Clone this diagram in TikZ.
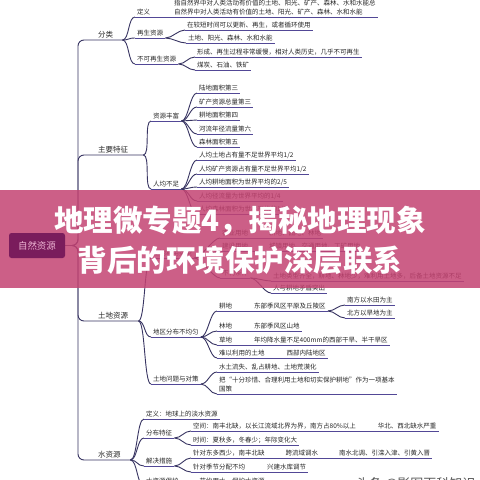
\documentclass[tikz,border=0pt]{standalone}
\usepackage{fontspec}
\setmainfont{Noto Sans CJK SC}
\usetikzlibrary{positioning}
\definecolor{branch}{RGB}{56,52,98}
\definecolor{uline}{RGB}{82,72,150}
\definecolor{txt}{RGB}{40,40,40}
\definecolor{veilpink}{RGB}{196,67,114}
\definecolor{rootbox}{RGB}{122,28,92}
\definecolor{roottxt}{RGB}{236,178,210}
\pgfdeclarelayer{veil}
\pgfdeclarelayer{front}
\pgfsetlayers{main,veil,front}
\tikzset{
  topic/.style={anchor=south west,inner xsep=0pt,inner ysep=1.6pt,text=txt,
    align=left,text width=#1,font=\fontsize{7.5}{9}\selectfont},
  leaf/.style={anchor=south west,inner xsep=2pt,inner ysep=1.4pt,text=txt,
    align=left,font=\fontsize{6.5}{9}\selectfont},
  br/.style={draw=branch,line width=0.9pt},
  ul/.style={draw=uline,line width=0.8pt}
}
\newcommand{\colgap}[1][21pt]{\hspace*{#1}}

\begin{document}
\begin{tikzpicture}[x=1pt,y=-1pt]
\useasboundingbox (0,0) rectangle (480,480);
\clip (0,0) rectangle (480,480);
\fill[white] (0,0) rectangle (480,480);

% root box sits above the banner
\begin{pgfonlayer}{front}
\node[fill=rootbox,text=roottxt,rounded corners=2.5pt,minimum width=56pt,minimum height=25pt,
  font=\fontsize{9.5}{11}\selectfont] (nat) at (37,245.5) {自然资源};
\end{pgfonlayer}
\coordinate (hub) at (78,245.5);

% main topics
\node[topic=24pt] (fl) at (98,40) {分类};
\node[topic=45pt] (tz) at (98,155) {主要特征};
\node[topic=40pt] (td) at (98,321) {土地资源};
\node[topic=32pt] (ws) at (98,460) {水资源};

% 分类
\node[leaf,text width=33pt] (dy) at (135,17) {定义};
\node[leaf] (dyt) at (172,17) {指自然界中对人类活动有价值的土地、阳光、矿产、森林、水和水能总\\自然界中对人类活动有价值的土地、阳光、矿产、森林、水和水能};
\node[leaf] (zs) at (135,38) {再生资源};
\node[leaf] (zs1) at (185,30) {在较短时间可以更新、再生，或者循环使用};
\node[leaf] (zs2) at (186,43) {土地、阳光、森林、水和水能};
\node[leaf] (bz) at (135,64) {不可再生资源};
\node[leaf] (bz1) at (195,57) {形成、再生过程非常缓慢，相对人类历史，几乎不可再生};
\node[leaf] (bz2) at (195,70) {煤炭、石油、铁矿};

% 主要特征
\node[leaf] (zf) at (151,121) {资源丰富};
\node[leaf] (zf1) at (197,93) {陆地面积第三};
\node[leaf] (zf2) at (197,107) {矿产资源总量第三};
\node[leaf] (zf3) at (197,120) {耕地面积第四};
\node[leaf] (zf4) at (197,134) {河流年径流量第六};
\node[leaf] (zf5) at (197,147) {森林面积第五};
\node[leaf] (rj) at (151,189) {人均不足};
\node[leaf] (rj1) at (197,160) {人均土地占有量不足世界平均1/2};
\node[leaf] (rj2) at (197,174) {人均矿产资源占有量不足世界平均1/2};
\node[leaf] (rj3) at (197,187) {人均耕地面积为世界平均的2/5};
\node[leaf] (rj4) at (197,201) {人均径流量为世界平均的1/4};
\node[leaf] (rj5) at (197,214) {人均森林面积为世界平均的1/5};

% 土地资源
\node[leaf] (ly) at (151,258) {土地利用类型};
\node[leaf] (ly1) at (220,238) {农业用地\colgap 耕地、园地、林地};
\node[leaf] (ly2) at (220,251) {建设用地\colgap 城镇用地、交通用地、工矿用地};
\node[leaf] (bl) at (220,278) {不利条件};
\node[leaf] (bl1) at (271,281) {土地类型齐全，耕地、林地少，难利用土地多，后备土地资源不足};
\node[leaf] (bl2) at (271,293) {人与耕地矛盾突出};
\node[leaf] (fb) at (151,337) {地区分布不均匀};
\node[leaf] (gd) at (217,311) {耕地\colgap[22pt]东部季风区平原及丘陵区};
\node[leaf] (gd1) at (345,305) {南方以水田为主};
\node[leaf] (gd2) at (345,318) {北方以旱地为主};
\node[leaf] (ld) at (217,331) {林地\colgap[22pt]东部季风区山地};
\node[leaf] (cd) at (217,345) {草地\colgap[22pt]年均降水量不足400mm的西部干旱、半干旱区};
\node[leaf] (nl) at (217,358) {难以利用的土地\colgap[22pt]西部内陆地区};
\node[leaf] (wt) at (151,384) {土地问题与对策};
\node[leaf] (st) at (217,372) {水土流失、乱占耕地、土地荒漠化};
\node[leaf] (bg) at (217,394) {把“十分珍惜、合理利用土地和切实保护耕地”作为一项基本\\国策};

% 水资源
\node[leaf] (dw) at (144,419) {定义：地球上的淡水资源};
\node[leaf] (ft) at (144,438) {分布特征};
\node[leaf] (kj) at (191,431) {空间：南丰北缺，以长江流域北界为界，南方占80\%以上\colgap[22pt]华北、西北缺水严重};
\node[leaf] (sj) at (191,445) {时间：夏秋多，冬春少；年际变化大};
\node[leaf] (jj) at (144,466) {解决措施};
\node[leaf] (dx) at (191,458) {针对东多西少，南丰北缺\colgap 跨流域调水\colgap 南水北调、引滦入津、引黄入晋};
\node[leaf] (jz) at (191,472) {针对季节分配不均\colgap[22pt]兴建水库调节};
\node[leaf] (bh) at (144,486) {水资源保护\colgap 节约用水、保护水资源};

% spine
\foreach \t in {fl,tz,td,ws}
  \draw[br,rounded corners=6pt] (nat.east) -- (hub) |- (\t.south east);

% curved connectors
\foreach \p/\c in {fl/dy,dy/dyt,fl/zs,zs/zs1,zs/zs2,fl/bz,bz/bz1,bz/bz2,
    tz/zf,zf/zf1,zf/zf2,zf/zf3,zf/zf4,zf/zf5,tz/rj,rj/rj1,rj/rj2,rj/rj3,rj/rj4,rj/rj5,
    td/ly,ly/ly1,ly/ly2,ly/bl,bl/bl1,bl/bl2,td/fb,fb/gd,gd/gd1,gd/gd2,fb/ld,fb/cd,fb/nl,
    td/wt,wt/st,wt/bg,ws/dw,ws/ft,ft/kj,ft/sj,ws/jj,jj/dx,jj/jz,ws/bh}
  \draw[br] (\p.south east) .. controls +(7,0) and +(-7,0) .. (\c.south west);

% underlines
\foreach \n in {dy,dyt,zs,zs1,zs2,bz,bz1,bz2,zf,zf1,zf2,zf3,zf4,zf5,rj,rj1,rj2,rj3,rj4,rj5,
    ly,ly1,ly2,bl,bl1,bl2,fb,gd,gd1,gd2,ld,cd,nl,wt,st,bg,dw,ft,kj,sj,jj,dx,jz,bh}
  \draw[ul] (\n.south west) -- (\n.south east);

% banner
\begin{pgfonlayer}{veil}
\fill[veilpink,opacity=0.85] (0,190) rectangle (480,288);
\end{pgfonlayer}
\begin{pgfonlayer}{front}
\node[text=white,inner sep=0pt,font=\fontsize{29.5}{36}\bfseries\selectfont] (t1) at (240,221) {地理微专题4，揭秘地理现象};
\node[text=white,inner sep=0pt,font=\fontsize{29.5}{36}\bfseries\selectfont] (t2) at (240,260) {背后的环境保护深层联系};
\end{pgfonlayer}

\node[anchor=west,inner sep=0pt,text=black!65,font=\fontsize{13}{14}\selectfont] (wm) at (356,484) {头条 @影图百科知识};
\end{tikzpicture}
\end{document}
